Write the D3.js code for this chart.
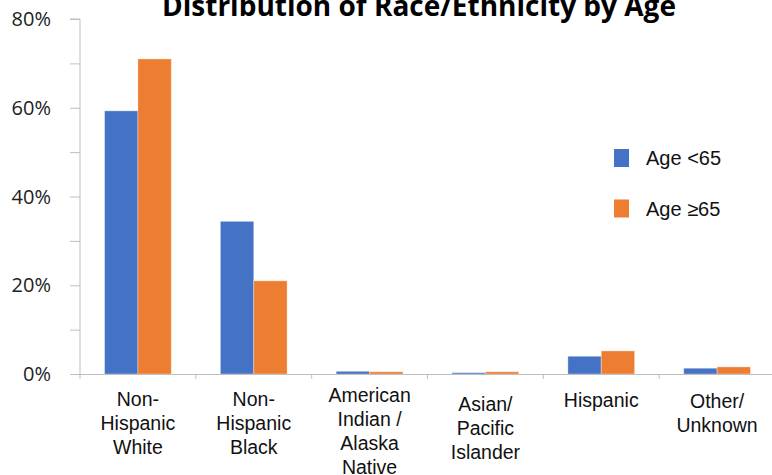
<!DOCTYPE html>
<html>
<head>
<meta charset="utf-8">
<script src="https://cdn.jsdelivr.net/npm/d3@7"></script>
<style>
  html, body { margin: 0; padding: 0; background: #fff; }
  svg { display: block; }
</style>
</head>
<body>
<svg id="chart" width="772" height="475"></svg>
<script>
const title = "Distribution of Race/Ethnicity by Age";
const categories = ["Non-Hispanic White", "Non-Hispanic Black", "American Indian / Alaska Native", "Asian/ Pacific Islander", "Hispanic", "Other/ Unknown"];
const categoryLines = [
  ["Non-", "Hispanic", "White"],
  ["Non-", "Hispanic", "Black"],
  ["American", "Indian /", "Alaska", "Native"],
  ["Asian/", "Pacific", "Islander"],
  ["Hispanic"],
  ["Other/", "Unknown"]
];
const seriesNames = ["Age <65", "Age \u226565"];
const under65 = [0.593, 0.344, 0.006, 0.003, 0.040, 0.013];
const over65 = [0.710, 0.210, 0.005, 0.005, 0.052, 0.016];
const yTicks = [0, 0.2, 0.4, 0.6, 0.8];
const yMinorTicks = [0, 0.1, 0.2, 0.3, 0.4, 0.5, 0.6, 0.7, 0.8];
const colors = ["#4472C4", "#ED7D31"];

const svg = d3.select("#chart");
const axisColor = "#BFBFBF";

const x0 = d3.scaleBand().domain(categories).range([80, 775]).paddingInner(0).paddingOuter(0);
const bw = x0.bandwidth();
const x1 = d3.scaleBand().domain(seriesNames).range([bw * 0.212, bw * 0.788]).padding(0);
const y = d3.scaleLinear().domain([0, 0.8]).range([374, 19]);

// Title
svg.append("text")
  .attr("x", 419).attr("y", 16)
  .attr("text-anchor", "middle")
  .attr("font-family", "'Open Sans', 'Noto Sans', sans-serif")
  .attr("font-weight", "bold")
  .attr("font-size", 28)
  .attr("fill", "#000")
  .text(title);

// Y axis (ticks every 10%, labels every 20%)
const yAxis = d3.axisLeft(y).tickValues(yMinorTicks).tickSize(10).tickFormat("");
const gy = svg.append("g").attr("transform", "translate(80,0)").call(yAxis);
gy.select(".domain").attr("stroke", axisColor).attr("d", `M-10,${y(0.8)}H0V${y(0)}`);
gy.selectAll(".tick line").attr("stroke", axisColor);

svg.append("g").selectAll("text")
  .data(yTicks).join("text")
  .attr("x", 51).attr("y", d => y(d))
  .attr("dy", "0.36em")
  .attr("text-anchor", "end")
  .attr("font-family", "'Open Sans', 'Noto Sans', sans-serif")
  .attr("font-size", 20)
  .attr("fill", "#222")
  .text(d => d3.format(".0%")(d));

// Bars
const groups = svg.append("g").selectAll("g")
  .data(categories).join("g")
  .attr("transform", d => `translate(${x0(d)},0)`);

groups.selectAll("rect")
  .data((d, i) => [under65[i], over65[i]].map((v, j) => ({ s: seriesNames[j], v, j })))
  .join("rect")
  .attr("x", d => x1(d.s))
  .attr("width", x1.bandwidth())
  .attr("y", d => y(d.v))
  .attr("height", d => y(0) - y(d.v))
  .attr("fill", d => colors[d.j])
  .attr("stroke", "rgba(255,255,255,0.35)")
  .attr("stroke-width", 1);

// X axis
const xAxis = d3.axisBottom(x0).tickSize(0).tickFormat("");
const gx = svg.append("g").attr("transform", `translate(0,${y(0)})`).call(xAxis);
gx.select(".domain").attr("stroke", axisColor).attr("d", `M75,0.5H772`);
gx.selectAll(".tick").remove();
gx.selectAll("line.cat").data(categories.concat(["end"])).join("line")
  .attr("class", "cat")
  .attr("x1", (d, i) => 80 + i * bw).attr("x2", (d, i) => 80 + i * bw)
  .attr("y1", 0).attr("y2", 5)
  .attr("stroke", axisColor);

// Category labels
const labelStartY = [406, 406, 402, 411, 407, 408];
svg.append("g").selectAll("text")
  .data(categories).join("text")
  .attr("x", d => x0(d) + bw / 2)
  .attr("y", (d, i) => labelStartY[i])
  .attr("text-anchor", "middle")
  .attr("font-family", "'Liberation Sans', Arial, sans-serif")
  .attr("font-size", 19.5)
  .attr("fill", "#111")
  .each(function(d, i) {
    const t = d3.select(this);
    categoryLines[i].forEach((line, k) => {
      t.append("tspan").attr("x", x0(d) + bw / 2).attr("dy", k === 0 ? 0 : 24).text(line);
    });
  });

// Legend
const legend = svg.append("g").selectAll("g")
  .data(seriesNames).join("g")
  .attr("transform", (d, i) => `translate(614,${149 + i * 50.5})`);
legend.append("rect")
  .attr("width", 15).attr("height", 18)
  .attr("fill", (d, i) => colors[i]);
legend.append("text")
  .attr("x", 32).attr("y", 16)
  .attr("font-family", "'Liberation Sans', Arial, sans-serif")
  .attr("font-size", 20)
  .attr("fill", "#111")
  .text(d => d);
</script>
</body>
</html>
